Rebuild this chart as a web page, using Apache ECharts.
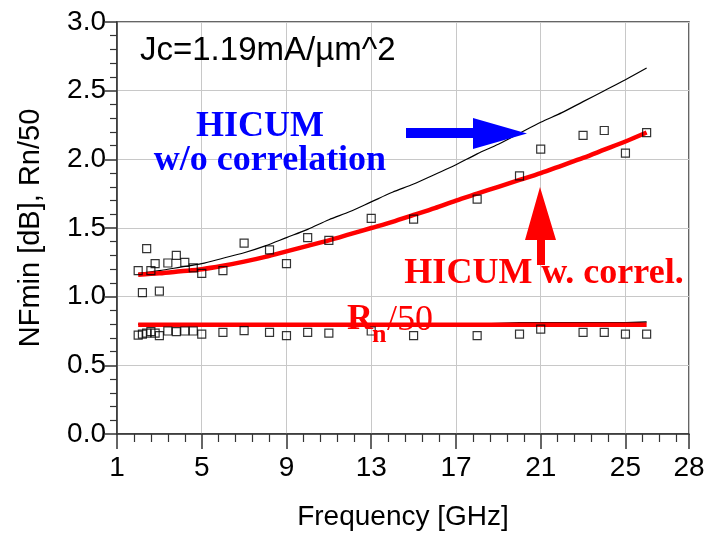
<!DOCTYPE html>
<html>
<head>
<meta charset="utf-8">
<script src="https://cdn.jsdelivr.net/npm/echarts@6/dist/echarts.min.js"></script>
<style>
  html, body { margin: 0; padding: 0; background: #fff; }
  #chart { width: 709px; height: 540px; }
</style>
</head>
<body>
<div id="chart"></div>
<script>
// measured points (squares)
const freqMeas = [2, 2.2, 2.4, 2.6, 2.8, 3, 3.4, 3.8, 4.2, 4.6, 5, 6, 7, 8.2, 9, 10, 11, 13, 15, 18, 20, 21, 23, 24, 25, 26];
const nfMeas = [1.19, 1.03, 1.35, 1.19, 1.24, 1.04, 1.245, 1.30, 1.25, 1.21, 1.17, 1.19, 1.39, 1.34, 1.24, 1.43, 1.41, 1.57, 1.565, 1.71, 1.88, 2.075, 2.175, 2.21, 2.045, 2.195];
const rnMeas = [0.72, 0.727, 0.735, 0.745, 0.735, 0.716, 0.75, 0.746, 0.75, 0.75, 0.727, 0.74, 0.753, 0.74, 0.716, 0.74, 0.734, 0.75, 0.716, 0.716, 0.727, 0.763, 0.74, 0.74, 0.727, 0.727];

// simulated curves
const freqSim = [2, 3, 4, 5, 6, 7, 8, 9, 10, 11, 12, 13, 14, 15, 16, 17, 18, 19, 20, 21, 22, 23, 24, 25, 26];
const nfNoCorr = [1.17, 1.19, 1.215, 1.24, 1.28, 1.32, 1.37, 1.43, 1.49, 1.56, 1.62, 1.69, 1.76, 1.82, 1.89, 1.96, 2.04, 2.11, 2.19, 2.27, 2.34, 2.42, 2.50, 2.58, 2.665];
const nfCorr = [1.16, 1.17, 1.185, 1.20, 1.225, 1.255, 1.29, 1.33, 1.37, 1.41, 1.455, 1.50, 1.545, 1.595, 1.645, 1.70, 1.75, 1.80, 1.85, 1.90, 1.955, 2.01, 2.07, 2.13, 2.195];
const rnNoCorr = [0.80, 0.80, 0.80, 0.80, 0.80, 0.80, 0.80, 0.80, 0.80, 0.80, 0.80, 0.80, 0.80, 0.80, 0.80, 0.80, 0.80, 0.805, 0.81, 0.81, 0.81, 0.81, 0.81, 0.81, 0.815];
const rnCorr = [0.795, 0.795, 0.795, 0.795, 0.795, 0.795, 0.795, 0.795, 0.795, 0.795, 0.795, 0.795, 0.795, 0.795, 0.795, 0.795, 0.795, 0.795, 0.795, 0.795, 0.795, 0.795, 0.795, 0.795, 0.795];

const pairs = (xs, ys) => xs.map((x, i) => [x, ys[i]]);

const sans = "'Liberation Sans', Arial, sans-serif";
const serif = "'Liberation Serif', 'Times New Roman', serif";

const chart = echarts.init(document.getElementById("chart"));

chart.setOption({
  animation: false,
  grid: {
    left: 117, right: 20, top: 22, bottom: 106,
    show: true, borderColor: "#333", borderWidth: 1.5,
  },
  xAxis: {
    type: "value",
    min: 1, max: 28, interval: 4,
    name: "Frequency [GHz]",
    nameLocation: "middle",
    nameGap: 69,
    nameTextStyle: { fontFamily: sans, fontSize: 28, color: "#000" },
    axisLine: { lineStyle: { color: "#333", width: 1.5 } },
    axisTick: { length: 15, lineStyle: { color: "#333", width: 1.5 } },
    minorTick: { show: true, splitNumber: 5, length: 8, lineStyle: { color: "#333", width: 1.2 } },
    splitLine: { show: true, lineStyle: { color: "#c8c8c8", width: 1 } },
    axisLabel: { fontFamily: sans, fontSize: 28, color: "#000", margin: 20 },
  },
  yAxis: {
    type: "value",
    min: 0, max: 3, interval: 0.5,
    name: "NFmin [dB], Rn/50",
    nameLocation: "middle",
    nameGap: 72,
    nameTextStyle: { fontFamily: sans, fontSize: 29, color: "#000" },
    axisLine: { show: true, lineStyle: { color: "#333", width: 1.5 } },
    axisTick: { show: true, length: 12, lineStyle: { color: "#333", width: 1.5 } },
    minorTick: { show: true, splitNumber: 5, length: 7, lineStyle: { color: "#333", width: 1.2 } },
    splitLine: { show: true, lineStyle: { color: "#c8c8c8", width: 1 } },
    axisLabel: {
      fontFamily: sans, fontSize: 28, color: "#000", margin: 11,
      formatter: (v) => v.toFixed(1),
    },
  },
  series: [
    {
      name: "NF w/o corr", type: "line", data: pairs(freqSim, nfNoCorr), smooth: 0.3,
      showSymbol: false, lineStyle: { color: "#000", width: 1.2 }, z: 2,
    },
    {
      name: "Rn w/o corr", type: "line", data: pairs(freqSim, rnNoCorr),
      showSymbol: false, lineStyle: { color: "#000", width: 1.5 }, z: 2,
    },
    {
      name: "NF w. corr", type: "line", data: pairs(freqSim, nfCorr), smooth: 0.3,
      showSymbol: false, lineStyle: { color: "#ff0000", width: 4.5 }, z: 3,
    },
    {
      name: "Rn w. corr", type: "line", data: pairs(freqSim, rnCorr),
      showSymbol: false, lineStyle: { color: "#ff0000", width: 4.5 }, z: 3,
    },
    {
      name: "NFmin meas", type: "scatter", data: pairs(freqMeas, nfMeas),
      symbol: "rect", symbolSize: 8,
      itemStyle: { color: "rgba(255,255,255,0)", borderColor: "#000", borderWidth: 1.2 }, z: 4,
    },
    {
      name: "Rn meas", type: "scatter", data: pairs(freqMeas, rnMeas),
      symbol: "rect", symbolSize: 8,
      itemStyle: { color: "rgba(255,255,255,0)", borderColor: "#000", borderWidth: 1.2 }, z: 4,
    },
  ],
  graphic: [
    {
      type: "text", z: 100,
      style: { text: "Jc=1.19mA/µm^2", x: 140, y: 51, font: "33px " + sans, fill: "#000", verticalAlign: "middle" },
    },
    {
      type: "text", z: 100,
      style: { text: "HICUM", x: 260, y: 127, font: "bold 36px " + serif, fill: "#0000ff", align: "center", verticalAlign: "middle" },
    },
    {
      type: "text", z: 100,
      style: { text: "w/o correlation", x: 270, y: 161, font: "bold 36px " + serif, fill: "#0000ff", align: "center", verticalAlign: "middle" },
    },
    {
      type: "polygon", z: 100,
      shape: { points: [[406, 128], [473, 128], [473, 118], [527, 133.5], [473, 149], [473, 138], [406, 138]] },
      style: { fill: "#0000ff" },
    },
    {
      type: "polygon", z: 100,
      shape: { points: [[540, 187], [556, 240], [545, 240], [545, 265], [537, 265], [537, 240], [525, 240]] },
      style: { fill: "#ff0000" },
    },
    {
      type: "text", z: 100,
      style: { text: "HICUM w. correl.", x: 544, y: 274, font: "bold 36px " + serif, fill: "#ff0000", align: "center", verticalAlign: "middle" },
    },
    {
      type: "text", z: 100,
      style: { text: "R", x: 347, y: 320, font: "bold 36px " + serif, fill: "#ff0000", verticalAlign: "middle" },
    },
    {
      type: "text", z: 100,
      style: { text: "n", x: 372, y: 335, font: "bold 26px " + serif, fill: "#ff0000", verticalAlign: "middle" },
    },
    {
      type: "text", z: 100,
      style: { text: "/50", x: 387, y: 321, font: "36px " + serif, fill: "#ff0000", verticalAlign: "middle" },
    },
  ],
});
</script>
</body>
</html>
